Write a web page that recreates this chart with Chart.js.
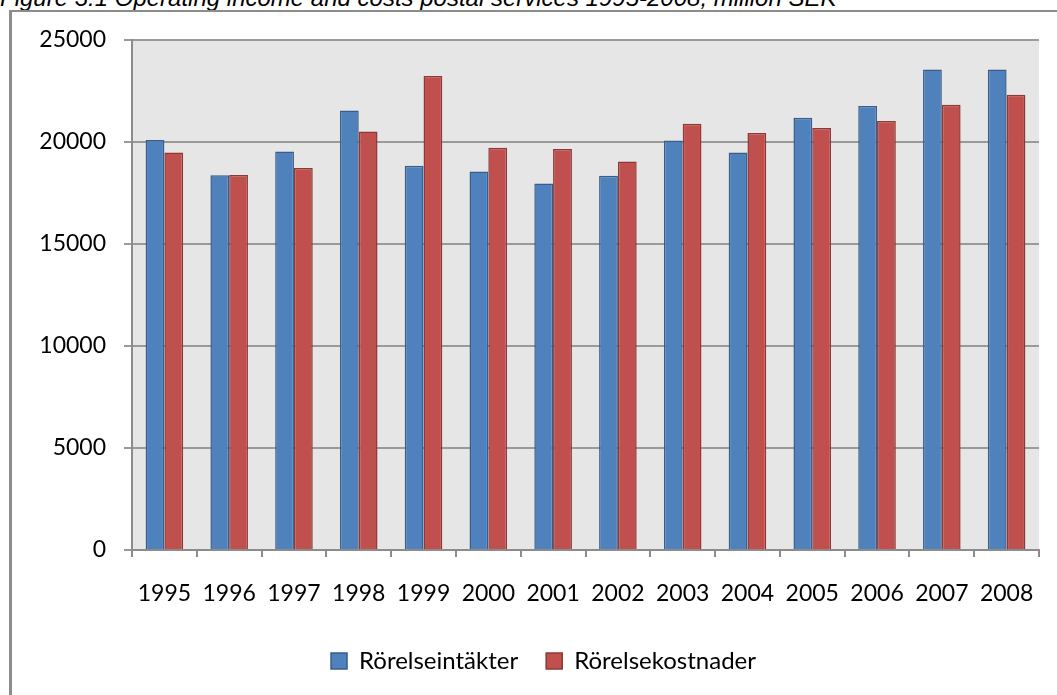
<!DOCTYPE html>
<html>
<head>
<meta charset="utf-8">
<script src="https://cdn.jsdelivr.net/npm/chart.js@4/dist/chart.umd.min.js"></script>
<style>
  html, body { margin: 0; padding: 0; background: #fff; }
  body { width: 1057px; height: 695px; position: relative; overflow: hidden; }
  #title {
    position: absolute; left: 0; top: -14px;
    font: italic 24px "Liberation Sans", Arial, sans-serif;
    line-height: 24px; color: #000; white-space: nowrap;
  }
  #frame {
    position: absolute; left: 9px; top: 10px; width: 1200px; height: 800px;
    border-left: 3px solid #8c8c8c; border-top: 2px solid #8c8c8c;
  }
  #wrap { position: absolute; left: 0; top: 0; width: 1057px; height: 695px; }
</style>
</head>
<body>
<div id="title">Figure 3.1 Operating income and costs postal services 1995-2008, million SEK</div>
<div id="frame"></div>
<div id="wrap"><canvas id="chart"></canvas></div>
<script>
// Data (million SEK)
const years = ["1995", "1996", "1997", "1998", "1999", "2000", "2001", "2002", "2003", "2004", "2005", "2006", "2007", "2008"];
const income = [20100, 18370, 19530, 21550, 18840, 18550, 17960, 18340, 20070, 19480, 21190, 21760, 23550, 23560];
const costs = [19480, 18380, 18720, 20520, 23230, 19720, 19660, 19040, 20900, 20440, 20690, 21030, 21830, 22320];
const yTicksMax = 25000;
const yStep = 5000;

const plotBg = {
  id: "plotBg",
  beforeDraw(chart) {
    const { ctx, chartArea: a } = chart;
    ctx.save();
    ctx.fillStyle = "#e6e6e6";
    ctx.fillRect(a.left, a.top, a.right - a.left, a.bottom - a.top);
    ctx.restore();
  },
};

const font = { family: "Lato, 'Open Sans', sans-serif", size: 23 };

new Chart(document.getElementById("chart"), {
  type: "bar",
  data: {
    labels: years,
    datasets: [
      {
        label: "Rörelseintäkter",
        data: income,
        backgroundColor: "#4f81bd",
        borderColor: "#385d8a",
        borderWidth: 1.5,
      },
      {
        label: "Rörelsekostnader",
        data: costs,
        backgroundColor: "#c0504d",
        borderColor: "#8c3836",
        borderWidth: 1.5,
      },
    ],
  },
  options: {
    responsive: true,
    maintainAspectRatio: false,
    animation: false,
    datasets: { bar: { categoryPercentage: 0.58, barPercentage: 1 } },
    layout: { padding: { left: 30, right: 0, top: 40, bottom: 12 } },
    plugins: {
      legend: {
        position: "bottom",
        labels: {
          color: "#000",
          font: { family: font.family, size: 24 },
          boxWidth: 16,
          boxHeight: 16,
          padding: 28,
        },
      },
      tooltip: { enabled: false },
    },
    scales: {
      x: {
        grid: {
          drawOnChartArea: false,
          color: "#8c8c8c",
          lineWidth: 2,
          tickLength: 7,
        },
        border: { color: "#8c8c8c", width: 2 },
        ticks: { color: "#000", font: font, padding: 23, maxRotation: 0 },
        afterFit: (s) => { s.height = 71; },
      },
      y: {
        min: 0,
        max: yTicksMax,
        ticks: {
          stepSize: yStep,
          color: "#000",
          font: font,
          padding: 18,
          callback: (v) => String(v),
        },
        grid: { color: "#9a9a9a", lineWidth: 2, tickLength: 8 },
        border: { color: "#8c8c8c", width: 2 },
        afterFit: (s) => { s.width = 102; },
      },
      // empty right margin so the legend centres on the whole frame
      yRight: {
        position: "right",
        grid: { display: false },
        border: { display: false },
        ticks: { display: false },
        afterFit: (s) => { s.width = 18; },
      },
    },
  },
  plugins: [plotBg],
});
</script>
</body>
</html>
